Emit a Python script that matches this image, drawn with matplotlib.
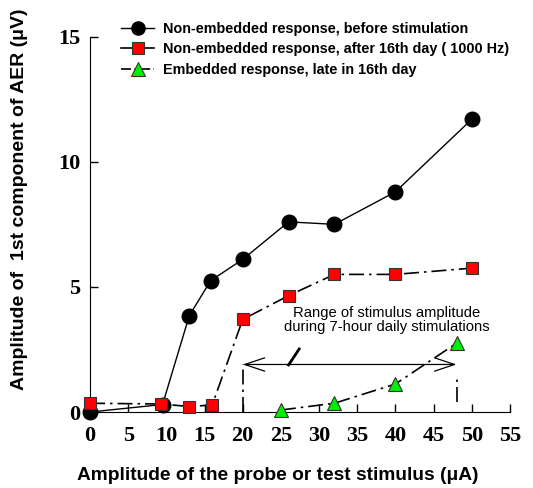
import matplotlib
matplotlib.use("Agg")
import matplotlib.pyplot as plt
from matplotlib.lines import Line2D

# data
x_before = [0, 9.5, 13, 15.8, 20, 26, 32, 40, 50]
y_before = [0, 0.3, 3.85, 5.25, 6.1, 7.6, 7.5, 8.8, 11.7]

x_after = [0, 9.3, 13, 16, 20, 26, 32, 40, 50]
y_after = [0.35, 0.32, 0.22, 0.28, 3.7, 4.65, 5.5, 5.5, 5.75]

x_embed = [25, 32, 40, 48]
y_embed = [0.08, 0.35, 1.12, 2.75]

labels = ["Non-embedded response, before stimulation",
          "Non-embedded response, after 16th day ( 1000 Hz)",
          "Embedded response, late in 16th day"]

range_lo, range_hi, range_y = 20, 48, 1.9
note = "Range of stimulus amplitude\nduring 7-hour daily stimulations"

sans = ["Liberation Sans", "DejaVu Sans"]
serif = ["Liberation Serif", "DejaVu Serif"]

fig = plt.figure(figsize=(5.33, 4.88), dpi=100)
ax = fig.add_axes([0.1689, 0.1557, 0.7879, 0.7691])

dash = (9, 3, 1.5, 3)
ax.plot(x_before, y_before, color="black", lw=1, marker="o", ms=10.5,
        mfc="black", mec="black", clip_on=False, zorder=3)
ax.plot(x_after, y_after, color="black", lw=1.2, dashes=dash, marker="s", ms=8.5,
        mfc="#ff0000", mec="#333333", mew=0.8, clip_on=False, zorder=4)
ax.plot(x_embed, y_embed, color="black", lw=1.2, dashes=dash, marker="^", ms=10,
        mfc="#00ee00", mec="#333333", mew=0.8, clip_on=False, zorder=4)

# range marker
ax.annotate("", xy=(range_lo, range_y), xytext=(range_hi, range_y),
            arrowprops=dict(arrowstyle="<->,head_length=1.2,head_width=0.4",
                            mutation_scale=12, color="black", lw=0.9,
                            shrinkA=0, shrinkB=0))
ax.plot([range_lo, range_lo], [0, range_y], color="black", lw=1.2, dashes=dash)
ax.plot([range_hi, range_hi], [0.4, 1.35], color="black", lw=1.2, dashes=dash)
ax.plot([26, 27.4], [1.88, 2.52], color="black", lw=2)
ax.text(38.9, 3.67, note, ha="center", va="center", fontsize=10.6,
        family=sans, linespacing=1.0)

ax.set_xlim(0, 55)
ax.set_ylim(0, 15)
ax.set_xticks(range(0, 56, 5))
ax.set_yticks([0, 5, 10, 15])
for s in ["top", "right"]:
    ax.spines[s].set_visible(False)
ax.tick_params(direction="in", length=6, width=1)
ax.tick_params(axis="x", pad=10)
ax.tick_params(axis="y", pad=7)
for t in ax.get_xticklabels() + ax.get_yticklabels():
    t.set_family(serif)
    t.set_fontweight("bold")
    t.set_fontsize(16)

ax.set_xlabel("Amplitude of the probe or test stimulus (\u03bcA)", family=sans,
              fontweight="bold", fontsize=13.8, va="center")
ax.set_ylabel("Amplitude of  1st component of AER (\u03bcV)", family=sans,
              fontweight="bold", fontsize=14, va="center")
ax.xaxis.set_label_coords(0.446, -0.168)
ax.yaxis.set_label_coords(-0.167, 0.567)

# legend handles (markers a bit different in size from the plot)
handles = [
    Line2D([], [], color="black", lw=1, marker="o", ms=9.5, mfc="black", mec="black"),
    Line2D([], [], color="black", lw=1.2, marker="s", ms=8.5,
           mfc="#ff0000", mec="#333333", mew=0.8),
    Line2D([], [], color="black", lw=1.2, dashes=(6, 2, 1.5, 2), marker="^", ms=10,
           mfc="#00ee00", mec="#333333", mew=0.8),
]
fig.legend(handles, labels, loc="upper left",
           bbox_to_anchor=(0.203, 0.982), frameon=False,
           prop=dict(family=sans, weight="bold", size=10.4),
           handlelength=2.3, handletextpad=0.6, labelspacing=0.45)

fig.savefig("out.png", dpi=100)
